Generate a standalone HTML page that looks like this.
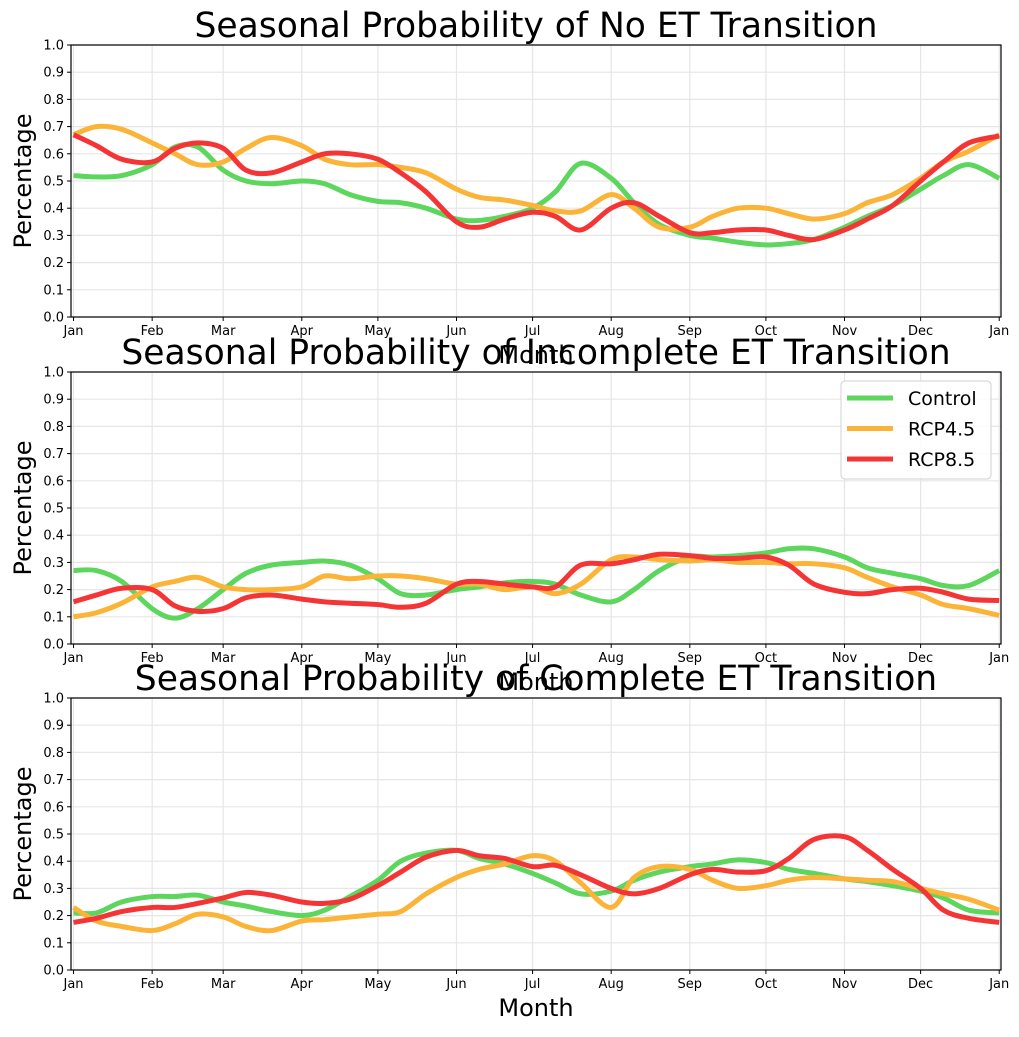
<!DOCTYPE html>
<html><head><meta charset="utf-8"><style>
body{margin:0;background:#fff}
text{font-family:"DejaVu Sans","Liberation Sans",sans-serif;fill:#000}
</style></head><body>
<svg id="c" width="1019" height="1032" xmlns="http://www.w3.org/2000/svg"></svg>
<script>
const days=[1,10,20,32,41,50,60,69,79,91,100,110,121,130,140,152,161,171,182,191,201,213,222,232,244,253,263,274,283,293,305,314,324,335,344,354,366];
const monthLabels=["Jan","Feb","Mar","Apr","May","Jun","Jul","Aug","Sep","Oct","Nov","Dec","Jan"];
const monthDays=[1,32,60,91,121,152,182,213,244,274,305,335,366];
const yTicks=[0,0.1,0.2,0.3,0.4,0.5,0.6,0.7,0.8,0.9,1.0];
const titles=["Seasonal Probability of No ET Transition","Seasonal Probability of Incomplete ET Transition","Seasonal Probability of Complete ET Transition"];
const seriesNames=["Control","RCP4.5","RCP8.5"];
const noControl=[0.52,0.515,0.52,0.56,0.625,0.625,0.54,0.50,0.49,0.50,0.49,0.45,0.425,0.42,0.40,0.36,0.355,0.37,0.40,0.46,0.565,0.51,0.42,0.34,0.30,0.29,0.275,0.265,0.27,0.285,0.33,0.37,0.41,0.47,0.52,0.56,0.51];
const noRcp45=[0.67,0.70,0.69,0.64,0.60,0.56,0.57,0.62,0.66,0.63,0.58,0.56,0.56,0.55,0.53,0.47,0.44,0.43,0.41,0.39,0.39,0.45,0.40,0.33,0.33,0.37,0.40,0.40,0.38,0.36,0.38,0.42,0.45,0.51,0.57,0.61,0.67];
const noRcp85=[0.67,0.63,0.58,0.57,0.62,0.64,0.62,0.54,0.53,0.57,0.60,0.60,0.58,0.53,0.46,0.35,0.33,0.36,0.385,0.37,0.32,0.40,0.42,0.37,0.31,0.31,0.32,0.32,0.30,0.285,0.32,0.36,0.41,0.50,0.57,0.64,0.665];
const incControl=[0.27,0.27,0.23,0.13,0.095,0.13,0.20,0.26,0.29,0.30,0.305,0.29,0.24,0.185,0.18,0.20,0.21,0.225,0.23,0.22,0.18,0.155,0.20,0.27,0.32,0.32,0.325,0.335,0.35,0.35,0.32,0.28,0.26,0.24,0.215,0.215,0.27];
const incRcp45=[0.10,0.115,0.15,0.21,0.23,0.245,0.21,0.20,0.20,0.21,0.25,0.24,0.25,0.25,0.24,0.22,0.22,0.20,0.21,0.185,0.22,0.31,0.32,0.31,0.305,0.31,0.30,0.30,0.295,0.295,0.28,0.245,0.21,0.18,0.145,0.13,0.105];
const incRcp85=[0.155,0.18,0.205,0.20,0.14,0.12,0.13,0.17,0.18,0.165,0.155,0.15,0.145,0.135,0.15,0.22,0.23,0.22,0.21,0.21,0.29,0.295,0.31,0.33,0.325,0.315,0.315,0.32,0.29,0.22,0.19,0.185,0.20,0.205,0.19,0.165,0.16];
const compControl=[0.21,0.21,0.25,0.27,0.27,0.275,0.25,0.235,0.215,0.20,0.22,0.27,0.33,0.40,0.43,0.44,0.41,0.39,0.355,0.32,0.28,0.29,0.33,0.36,0.38,0.39,0.405,0.395,0.37,0.355,0.335,0.325,0.31,0.29,0.265,0.22,0.21];
const compRcp45=[0.23,0.18,0.16,0.145,0.17,0.205,0.195,0.16,0.145,0.18,0.185,0.195,0.205,0.215,0.28,0.34,0.37,0.39,0.42,0.40,0.32,0.23,0.34,0.38,0.37,0.33,0.30,0.31,0.33,0.34,0.335,0.33,0.325,0.30,0.28,0.26,0.22];
const compRcp85=[0.175,0.19,0.215,0.23,0.23,0.245,0.265,0.285,0.275,0.25,0.245,0.26,0.31,0.36,0.415,0.44,0.42,0.41,0.38,0.385,0.35,0.30,0.28,0.30,0.35,0.37,0.36,0.365,0.41,0.48,0.49,0.44,0.37,0.30,0.22,0.19,0.175];

const colors=["#5cd65c","#fbb437","#f53535"];
const panels=[[noControl,noRcp45,noRcp85],[incControl,incRcp45,incRcp85],[compControl,compRcp45,compRcp85]];
const tops=[45,372,698], H=272, L=71, R=1001;
const svg=document.getElementById('c'), NS="http://www.w3.org/2000/svg";
function mk(tag,attrs,parent){const e=document.createElementNS(NS,tag);for(const k in attrs)e.setAttribute(k,attrs[k]);(parent||svg).appendChild(e);return e;}
const xS=d=>L+(d)*(R-L)/366.7;
function smooth(pts){let d=`M${pts[0][0]},${pts[0][1]}`;for(let i=0;i<pts.length-1;i++){const p0=pts[Math.max(0,i-1)],p1=pts[i],p2=pts[i+1],p3=pts[Math.min(pts.length-1,i+2)];d+=` C${p1[0]+(p2[0]-p0[0])/6},${p1[1]+(p2[1]-p0[1])/6} ${p2[0]-(p3[0]-p1[0])/6},${p2[1]-(p3[1]-p1[1])/6} ${p2[0]},${p2[1]}`;}return d;}
panels.forEach((ser,pi)=>{
  const T=tops[pi],B=T+H,yS=v=>B-v*H;
  const g=mk('g',{});
  
  
  yTicks.forEach(v=>{const y=yS(v);
    const gl=mk('line',{x1:L,x2:R,y1:y,y2:y,stroke:'#e6e6e6','stroke-width':1.2},g);
    
    mk('line',{x1:L-4,x2:L,y1:y,y2:y,stroke:'#000'},g);
    const t=mk('text',{x:L-7,y:y+4.5,'font-size':13,'text-anchor':'end'},g);t.textContent=v.toFixed(1);
    });
  monthDays.forEach((d,i)=>{const x=xS(d);
    const gl=mk('line',{x1:x,x2:x,y1:T,y2:B,stroke:'#e6e6e6','stroke-width':1.2},g);
    
    mk('line',{x1:x,x2:x,y1:B,y2:B+4,stroke:'#000'},g);
    const t=mk('text',{x:x,y:B+18,'font-size':13,'text-anchor':'middle'},g);t.textContent=monthLabels[i];
    });
  ser.forEach((vals,si)=>{const p=mk('path',{d:smooth(vals.map((v,i)=>[xS(days[i]),yS(v)])),fill:'none',stroke:colors[si],'stroke-width':5,'stroke-linejoin':'round'},g);
    });
  const fr=mk('rect',{x:L,y:T,width:R-L,height:H,fill:'none',stroke:'#000','stroke-width':1.2},g);
  
  const xl=mk('text',{x:(L+R)/2,y:B+46,'font-size':24,'text-anchor':'middle'},g);xl.textContent='Month';
  
  const yl=mk('text',{x:0,y:0,'font-size':24,'text-anchor':'middle',transform:`translate(31,${T+H/2}) rotate(-90)`},g);yl.textContent='Percentage';
  
});
panels.forEach((ser,pi)=>{
  const tt=mk('text',{x:(L+R)/2,y:tops[pi]-8,'font-size':34.5,'text-anchor':'middle'});tt.textContent=titles[pi];
  
});
const lg=mk('g',{});


mk('rect',{x:841,y:381,width:150,height:98,rx:4,fill:'#fff','fill-opacity':0.85,stroke:'#d0d0d0'},lg);
seriesNames.forEach((n,i)=>{const y=398+i*30.5;
  const ln=mk('line',{x1:847,x2:893,y1:y,y2:y,stroke:colors[i],'stroke-width':5},lg);
  
  const t=mk('text',{x:908,y:y+7,'font-size':19},lg);t.textContent=n;
  });
</script>
</body></html>
